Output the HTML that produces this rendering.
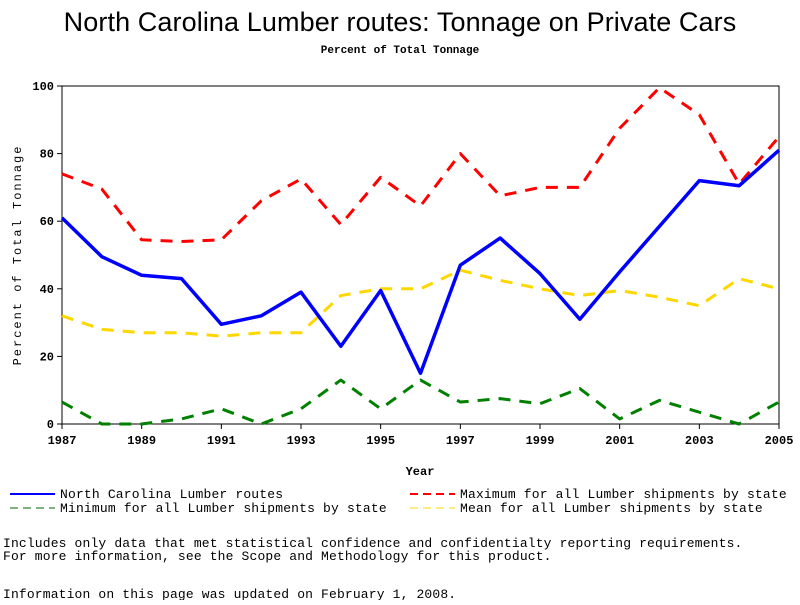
<!DOCTYPE html>
<html><head><meta charset="utf-8"><style>
body{margin:0;background:#fff;width:800px;height:600px;overflow:hidden}
svg text{font-family:"Liberation Mono",monospace}
</style></head><body>
<svg width="800" height="600">
<text x="400" y="31" text-anchor="middle" font-size="27" letter-spacing="0.1" style="font-family:'Liberation Sans',sans-serif">North Carolina Lumber routes: Tonnage on Private Cars</text>
<text x="400" y="53" text-anchor="middle" font-size="11" font-weight="bold">Percent of Total Tonnage</text>
<g id="axes"></g>
<g id="series"></g>
<text x="420" y="475" text-anchor="middle" font-size="12" font-weight="bold">Year</text>
<text transform="translate(21,255) rotate(-90)" text-anchor="middle" font-size="12" letter-spacing="2">Percent of Total Tonnage</text>
<g font-size="13" letter-spacing="0.17">
<g><line x1="10" y1="494" x2="55" y2="494" stroke="#0000ff" stroke-width="2"/><text x="60" y="498">North Carolina Lumber routes</text></g>
<g><line x1="410" y1="494" x2="455" y2="494" stroke="#ff0000" stroke-width="2" stroke-dasharray="8,5"/><text x="460" y="498">Maximum for all Lumber shipments by state</text></g>
<g><line x1="10" y1="508" x2="55" y2="508" stroke="#006600" stroke-width="1" stroke-dasharray="8,5"/><text x="60" y="512">Minimum for all Lumber shipments by state</text></g>
<g><line x1="410" y1="508" x2="455" y2="508" stroke="#ffd700" stroke-width="1" stroke-dasharray="8,5"/><text x="460" y="512">Mean for all Lumber shipments by state</text></g>
</g>
<g font-size="13" letter-spacing="0.15">
<text x="3" y="547">Includes only data that met statistical confidence and confidentialty reporting requirements.</text>
<text x="3" y="560">For more information, see the Scope and Methodology for this product.</text>
<text x="3" y="598">Information on this page was updated on February 1, 2008.</text>
</g>
</svg>
<script>
const years=[1987,1988,1989,1990,1991,1992,1993,1994,1995,1996,1997,1998,1999,2000,2001,2002,2003,2004,2005];
const ncValues=[61,49.5,44,43,29.5,32,39,23,39.5,15,47,55,44.5,31,45,58.5,72,70.5,81];
const maxValues=[74,69.5,54.5,54,54.5,66,72.5,59,73,64.5,80,67.5,70,70,87.5,99.5,91.5,71,85];
const meanValues=[32,28,27,27,26,27,27,38,40,40,45.5,42.5,40,38,39.5,37.5,35,43,40];
const minValues=[6.5,0,0,1.5,4.5,0,4.5,13,4.5,13,6.5,7.5,6,10.5,1.5,7,3.5,0,6.5];
const xTicks=[1987,1989,1991,1993,1995,1997,1999,2001,2003,2005];
const yTicks=[0,20,40,60,80,100];
const NS="http://www.w3.org/2000/svg";
const X0=62,X1=779,Y0=424,Y1=86;
function xs(v){return X0+(v-1987)/(2005-1987)*(X1-X0);}
function ys(v){return Y0-v/100*(Y0-Y1);}
function mk(t,a,p){const e=document.createElementNS(NS,t);for(const k in a)e.setAttribute(k,a[k]);p.appendChild(e);return e;}
const ax=document.getElementById('axes');
const frame=mk('rect',{x:X0,y:Y1,width:X1-X0,height:Y0-Y1,fill:'none',stroke:'#000','stroke-width':1},ax);


yTicks.forEach(v=>{
 const l=mk('line',{x1:X0-5,x2:X0,y1:ys(v),y2:ys(v),stroke:'#000'},ax);
 
 
 const t=mk('text',{x:X0-8,y:ys(v)+4,'text-anchor':'end','font-size':12,'font-weight':'bold'},ax);
 t.textContent=v;
 
 
});
xTicks.forEach(v=>{
 const l=mk('line',{x1:xs(v),x2:xs(v),y1:Y0,y2:Y0+5,stroke:'#000'},ax);
 
 
 const t=mk('text',{x:xs(v),y:Y0+20,'text-anchor':'middle','font-size':12,'font-weight':'bold'},ax);
 t.textContent=v;
 
 
});
const sg=document.getElementById('series');
function line(vals,color,w,dash,name){
 const p=mk('polyline',{points:vals.map((v,i)=>xs(years[i])+','+ys(v)).join(' '),fill:'none',stroke:color,'stroke-width':w,'stroke-linejoin':'round'},sg);
 if(dash)p.setAttribute('stroke-dasharray',dash);
 
 
}
line(minValues,'#008000',3,'12,9','series-min');
line(meanValues,'#ffd700',3,'12,9','series-mean');
line(maxValues,'#ff0000',3,'12,9','series-max');
line(ncValues,'#0000ff',3.5,null,'series-nc');
</script>
</body></html>
